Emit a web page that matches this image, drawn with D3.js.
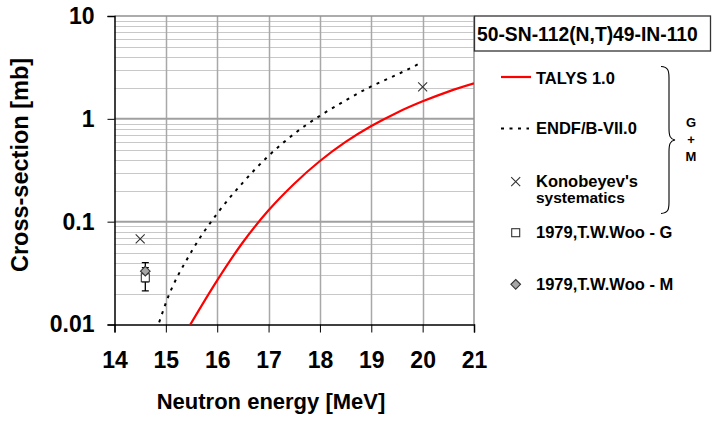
<!DOCTYPE html>
<html><head><meta charset="utf-8">
<script src="https://cdn.jsdelivr.net/npm/d3@7"></script>
<style>body{margin:0;background:#fff}svg{display:block;font-family:"Liberation Sans",Arial,sans-serif;font-weight:bold}</style>
</head><body><svg id="c" width="712" height="423"></svg>
<script>
const xTicks = [14,15,16,17,18,19,20,21];
const yTicks = [0.01,0.1,1,10];
const yTickLabels = ["0.01","0.1","1","10"];
const talysE = [15.45,16,16.5,17,17.5,18,18.5,19,19.5,20,20.5,21];
const talysXS = [0.0095,0.0269,0.0631,0.129,0.234,0.389,0.596,0.851,1.148,1.479,1.84,2.21];
const endfE = [14.87,15,15.5,16,16.5,17,17.5,18,18.5,19,19.5,19.97];
const endfXS = [0.0105,0.0162,0.0513,0.120,0.240,0.437,0.716,1.07,1.51,2.07,2.69,3.51];
const konE = [14.5,20];
const konXS = [0.068,2.05];
const wooGE = [14.6], wooGXS = [0.0285], wooGErr = [0.0073];
const wooME = [14.6], wooMXS = [0.033], wooMErr = [0.007];
const title = "50-SN-112(N,T)49-IN-110";
const legendLabels = ["TALYS 1.0","ENDF/B-VII.0","Konobeyev's|systematics","1979,T.W.Woo - G","1979,T.W.Woo - M"];

const svg = d3.select("#c");
const x = d3.scaleLinear().domain([14,21]).range([114.5,474]);
const y = d3.scaleLog().domain([0.01,10]).range([324.5,16]);

// minor grid
const minor = [];
[0.01,0.1,1].forEach(d=>{for(let k=2;k<=9;k++) minor.push(d*k);});
svg.append("g").selectAll("line").data(minor).join("line")
  .attr("x1",x(14)).attr("x2",x(21)).attr("y1",d=>Math.round(y(d))+0.5).attr("y2",d=>Math.round(y(d))+0.5)
  .attr("stroke","#c8c8c8").attr("stroke-width",1);
// vertical grid
svg.append("g").selectAll("line").data(xTicks.slice(1,-1)).join("line")
  .attr("x1",d=>Math.round(x(d))+0.5).attr("x2",d=>Math.round(x(d))+0.5).attr("y1",y(10)).attr("y2",y(0.01))
  .attr("stroke","#a8a8a8").attr("stroke-width",1.5);
// major grid
svg.append("g").selectAll("line").data([0.1,1]).join("line")
  .attr("x1",x(14)).attr("x2",x(21)).attr("y1",d=>y(d)).attr("y2",d=>y(d))
  .attr("stroke","#a0a0a0").attr("stroke-width",2);
// frame top/right
svg.append("line").attr("x1",x(14)).attr("x2",x(21)).attr("y1",y(10)).attr("y2",y(10)).attr("stroke","#909090").attr("stroke-width",1.5);
svg.append("line").attr("x1",x(21)).attr("x2",x(21)).attr("y1",y(10)).attr("y2",y(0.01)).attr("stroke","#909090").attr("stroke-width",1.5);

// axes
const xAxis = svg.append("g").attr("transform",`translate(0,${y(0.01)})`)
  .call(d3.axisBottom(x).tickValues(xTicks).tickSize(8).tickPadding(19).tickFormat(d3.format("d")));
xAxis.select(".domain").attr("stroke","#000").attr("stroke-width",1.5);
xAxis.selectAll("text").attr("font-size",23).attr("font-weight","bold").attr("font-family","Liberation Sans, Arial, sans-serif").attr("fill","#000");
const yAxis = svg.append("g").attr("transform",`translate(${x(14)},0)`)
  .call(d3.axisLeft(y).tickValues(yTicks).tickSize(7).tickPadding(13).tickFormat((d,i)=>yTickLabels[i]));
yAxis.select(".domain").attr("stroke","#000").attr("stroke-width",1.5);
yAxis.selectAll("text").attr("font-size",23).attr("font-weight","bold").attr("font-family","Liberation Sans, Arial, sans-serif").attr("fill","#000");

// axis titles
svg.append("text").attr("x",271).attr("y",409).attr("text-anchor","middle").attr("font-size",22).text("Neutron energy [MeV]");
svg.append("text").attr("transform","translate(28,165) rotate(-90)").attr("text-anchor","middle").attr("font-size",23.5).text("Cross-section [mb]");

// curves
svg.append("clipPath").attr("id","pc").append("rect")
  .attr("x",x(14)).attr("y",y(10)).attr("width",x(21)-x(14)).attr("height",y(0.01)-y(10));
const line = d3.line().x(d=>x(d[0])).y(d=>y(d[1])).curve(d3.curveMonotoneX);
svg.append("path").attr("clip-path","url(#pc)").datum(endfE.map((e,i)=>[e,endfXS[i]]))
  .attr("d",line).attr("fill","none").attr("stroke","#000").attr("stroke-width",2).attr("stroke-dasharray","3,5.5");
svg.append("path").attr("clip-path","url(#pc)").datum(talysE.map((e,i)=>[e,talysXS[i]]))
  .attr("d",line).attr("fill","none").attr("stroke","#ff0000").attr("stroke-width",2.2);

// markers
function xMark(g,cx,cy){const s=4.5;
  g.append("path").attr("d",`M${cx-s},${cy-s}L${cx+s},${cy+s}M${cx-s},${cy+s}L${cx+s},${cy-s}`).attr("stroke","#333").attr("stroke-width",1.1).attr("fill","none");}
function sqMark(g,cx,cy){g.append("rect").attr("x",cx-4).attr("y",cy-4).attr("width",8).attr("height",8).attr("fill","#fff").attr("stroke","#333").attr("stroke-width",1.1);}
function diMark(g,cx,cy){const s=4.8;g.append("path").attr("d",`M${cx},${cy-s}L${cx+s},${cy}L${cx},${cy+s}L${cx-s},${cy}Z`).attr("fill","#a6a6a6").attr("stroke","#333").attr("stroke-width",1.1);}
function errBar(g,cx,lo,hi){
  g.append("path").attr("d",`M${cx},${y(lo)}V${y(hi)}M${cx-3.5},${y(lo)}H${cx+3.5}M${cx-3.5},${y(hi)}H${cx+3.5}`).attr("stroke","#000").attr("stroke-width",1.3).attr("fill","none");}
const pg = svg.append("g");
wooGE.forEach((e,i)=>errBar(pg,x(e),wooGXS[i]-wooGErr[i],wooGXS[i]+wooGErr[i]));
wooME.forEach((e,i)=>errBar(pg,x(e),wooMXS[i]-wooMErr[i],wooMXS[i]+wooMErr[i]));
wooGE.forEach((e,i)=>sqMark(pg,x(e),y(wooGXS[i])));
wooME.forEach((e,i)=>diMark(pg,x(e),y(wooMXS[i])));
konE.forEach((e,i)=>xMark(pg,x(e),y(konXS[i])));

// legend
svg.append("rect").attr("x",474.5).attr("y",16).attr("width",236).attr("height",35).attr("fill","#fff").attr("stroke","#333").attr("stroke-width",1.3);
svg.append("text").attr("x",477).attr("y",41).attr("font-size",19.3).text(title);
const lg = svg.append("g");
const lx = 536, mx = 515.7;
lg.append("line").attr("x1",501).attr("x2",531).attr("y1",77).attr("y2",77).attr("stroke","#ff0000").attr("stroke-width",2.2);
lg.append("line").attr("x1",501).attr("x2",529).attr("y1",128.5).attr("y2",128.5).attr("stroke","#000").attr("stroke-width",2).attr("stroke-dasharray","3,5.5");
xMark(lg,mx,181.7); sqMark(lg,mx,232.7); diMark(lg,mx,284.3);
const rows=[83.5,134,[187,203],238,290];
legendLabels.forEach((t,i)=>{
  const parts=t.split("|");
  if(parts.length===1) lg.append("text").attr("x",lx).attr("y",rows[i]).attr("font-size",16.5).text(t);
  else parts.forEach((p,j)=>lg.append("text").attr("x",lx).attr("y",rows[i][j]).attr("font-size",j?15.5:16.5).text(p));
});
// brace
lg.append("path").attr("d","M661,66.5 C668,67 669,70 669,78 L669,128 C669,136 670,139 675,140 C670,141 669,144 669,152 L669,202 C669,210 668,213 661,213.5")
  .attr("fill","none").attr("stroke","#000").attr("stroke-width",1.1);
lg.append("text").attr("x",691).attr("y",127).attr("text-anchor","middle").attr("font-size",13).text("G");
lg.append("text").attr("x",691).attr("y",144).attr("text-anchor","middle").attr("font-size",13).text("+");
lg.append("text").attr("x",691).attr("y",161).attr("text-anchor","middle").attr("font-size",13).text("M");
</script></body></html>
